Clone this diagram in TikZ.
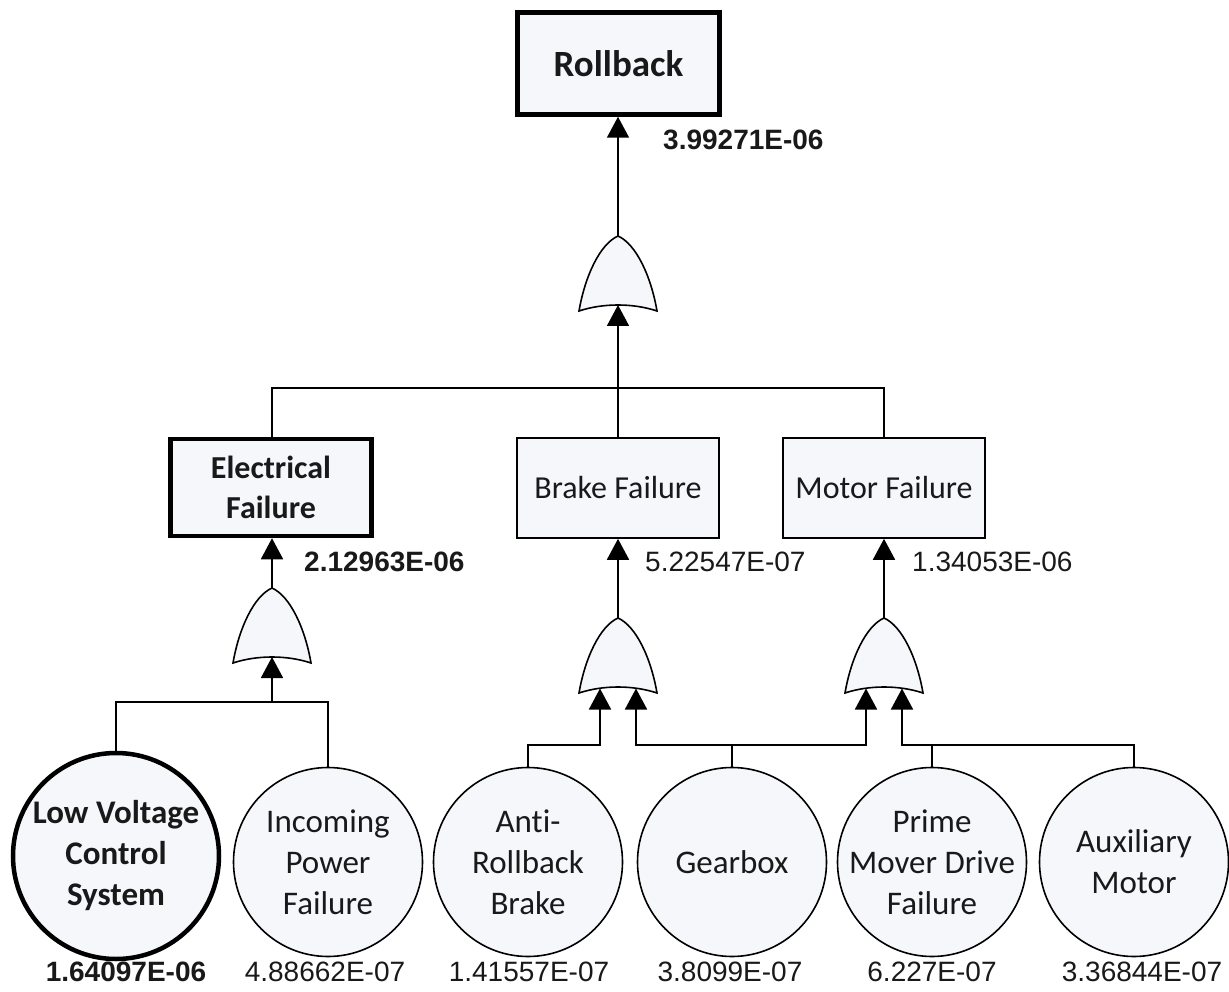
\documentclass[tikz,border=0pt]{standalone}
\usepackage{fontspec}
\setmainfont{Carlito}[Ligatures=NoCommon]
\newfontfamily\valfont{Liberation Sans}
\usetikzlibrary{arrows.meta}

\definecolor{paleblue}{RGB}{245,247,251}
\definecolor{inkgray}{RGB}{25,25,25}

\tikzset{
  conn/.style={line width=1.8pt, draw=black},
  arr/.style={conn, arrows={-Triangle[width=22pt,length=21pt]}},
  evbox/.style={rectangle, draw=black, line width=1.6pt, fill=paleblue,
    minimum width=202pt, minimum height=100pt, inner sep=0pt, align=center,
    font=\fontsize{32}{40}\selectfont, text=inkgray},
  topbox/.style={evbox, line width=4.5pt, font=\fontsize{32}{40}\selectfont\bfseries},
  basicev/.style={circle, draw=black, line width=1.6pt, fill=paleblue,
    minimum size=189pt, inner sep=0pt},
  basicbold/.style={basicev, line width=4.5pt, minimum size=206pt},
  evtext/.style={inner sep=0pt, align=center, text=inkgray,
    font=\fontsize{33}{41}\selectfont},
  valnum/.style={inner sep=0pt, text=inkgray, font=\fontsize{28}{32}\valfont},
  valbold/.style={valnum, font=\fontsize{28}{32}\valfont\bfseries},
  gatebody/.style={draw=black, line width=1.6pt, fill=paleblue},
  orgate/.pic={
    \path[gatebody] (-39,75) .. controls (-33,40) and (-18,8) .. (0,0)
      .. controls (18,8) and (33,40) .. (39,75)
      .. controls (15,67) and (-15,67) .. (-39,75) -- cycle;
    \coordinate (-top) at (0,0);
    \coordinate (-in) at (0,69);
    \coordinate (-inL) at (-18,70.5);
    \coordinate (-inR) at (18,70.5);
  }
}

\begin{document}
\begin{tikzpicture}[x=1pt,y=-1pt]
\useasboundingbox (0,0) rectangle (1229,992);

% events
\node[topbox, minimum width=202pt, minimum height=102pt,
      font=\fontsize{37}{44}\selectfont\bfseries] (rb) at (618.5,63.5) {Rollback};
\node[topbox, minimum width=201pt, minimum height=97pt] (eb) at (271,487.5) {Electrical\\Failure};
\node[evbox] (bf) at (618,488) {Brake Failure};
\node[evbox] (mf) at (884,488) {Motor Failure};

% OR gates
\pic (tg) at (618,236) {orgate};
\pic (eg) at (272,588) {orgate};
\pic (bg) at (618,618) {orgate};
\pic (mg) at (884,618) {orgate};

% basic events
\node[basicbold] (lvcs) at (116,856) {};
\node[evtext, font=\fontsize{33}{41}\selectfont\bfseries] (lvcs-t) at (lvcs) {Low Voltage\\Control\\System};
\node[basicev] (ipf) at (328,862) {};
\node[evtext] (ipf-t) at (ipf) {Incoming\\Power\\Failure};
\node[basicev] (arb) at (528,862) {};
\node[evtext] (arb-t) at (arb) {Anti-\\Rollback\\Brake};
\node[basicev] (gbx) at (732,862) {};
\node[evtext] (gbx-t) at (gbx) {Gearbox};
\node[basicev] (pmd) at (932,862) {};
\node[evtext] (pmd-t) at (pmd) {Prime\\Mover Drive\\Failure};
\node[basicev] (aux) at (1134,862) {};
\node[evtext] (aux-t) at (aux) {Auxiliary\\Motor};

% bus junctions
\coordinate (topbus) at (618,388);
\coordinate (ebus) at (272,702);
\coordinate (lowbus) at (618,745);

% top level
\draw[arr] (tg-top) -- (tg-top |- rb.south);
\draw[conn] (eb.north -| ebus) |- (topbus) -| (mf.north);
\draw[conn] (bf.north) -- (topbus);
\draw[arr] (topbus) -- (tg-in);

% electrical branch
\draw[arr] (eg-top) -- (eg-top |- eb.south);
\draw[conn] (lvcs.north) |- (ebus) -| (ipf.north);
\draw[arr] (ebus) -- (eg-in);

% brake and motor branches
\draw[arr] (bg-top) -- (bf.south);
\draw[arr] (mg-top) -- (mf.south);
\draw[arr] (arb.north) |- (bg-inL |- lowbus) -- (bg-inL);
\draw[conn] (gbx.north) -- (gbx.north |- lowbus);
\draw[arr] (gbx.north |- lowbus) -| (bg-inR);
\draw[arr] (gbx.north |- lowbus) -| (mg-inL);
\draw[arr] (aux.north) |- (mg-inR |- lowbus) -- (mg-inR);
\draw[conn] (pmd.north) -- (pmd.north |- lowbus);

% probabilities
\node[valbold, anchor=west] (v-rb) at (663,140) {3.99271E-06};
\node[valbold, anchor=west] (v-eb) at (304,562) {2.12963E-06};
\node[valnum, anchor=west] (v-bf) at (645,562) {5.22547E-07};
\node[valnum, anchor=west] (v-mf) at (912,562) {1.34053E-06};
\node[valbold] (v-lvcs) at (126,972) {1.64097E-06};
\node[valnum] (v-ipf) at (325,972) {4.88662E-07};
\node[valnum] (v-arb) at (529,972) {1.41557E-07};
\node[valnum] (v-gbx) at (730,972) {3.8099E-07};
\node[valnum] (v-pmd) at (932,972) {6.227E-07};
\node[valnum] (v-aux) at (1142,972) {3.36844E-07};
\end{tikzpicture}
\end{document}
